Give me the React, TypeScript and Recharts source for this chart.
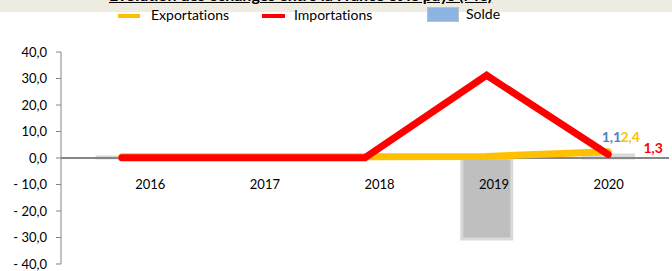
import { Bar, ComposedChart, LabelList, Line, ReferenceLine, XAxis, YAxis } from 'recharts';

const years = ['2016', '2017', '2018', '2019', '2020'];
const exportations = [0.5, 0.5, 0.5, 0.6, 2.4];
const importations = [0.1, 0.1, 0.1, 31.2, 1.3];
const solde = [0.4, 0.4, 0.4, -30.6, 1.1];
const yTicks = [40, 30, 20, 10, 0, -10, -20, -30, -40];

const data = years.map((year, i) => ({
  year,
  exportations: exportations[i],
  importations: importations[i],
  solde: solde[i],
}));

const W = 672;
const H = 271;
const TOP = 52;
const BOTTOM_AXIS = 7;
const PLOT_H = H - TOP - BOTTOM_AXIS;
const ZERO_Y = TOP + PLOT_H / 2;
const FONT = 'Lato, "Open Sans", sans-serif';
const NO_LIG = { fontVariantLigatures: 'none' as const };

function fmt(v: number): string {
  const s = Math.abs(v).toFixed(1).replace('.', ',');
  return v < 0 ? '- ' + s : s;
}

function YearTick({ x, payload }: any) {
  return (
    <text x={x} y={ZERO_Y + 31} textAnchor="middle" fontSize={13} fill="#000" fontFamily={FONT}>
      {payload.value}
    </text>
  );
}

// only the last year carries a value label
function lastLabel(color: string, dx: number, dy: number, isBar = false) {
  return (props: any) => {
    const { x, y, width, value, index } = props;
    if (index !== years.length - 1) return null;
    const cx = isBar ? x + width / 2 : x;
    return (
      <text x={cx + dx} y={y + dy} textAnchor="middle" fontSize={14} fontWeight="bold" fill={color} fontFamily={FONT}>
        {String(value).replace('.', ',')}
      </text>
    );
  };
}

function LegendBox() {
  const item = {
    position: 'absolute' as const,
    top: 7,
    fontSize: 14,
    fontFamily: FONT,
    color: '#000',
    lineHeight: '16px',
    ...NO_LIG,
  };
  return (
    <>
      <div style={{ position: 'absolute', left: 118, top: 14, width: 22, height: 4, background: '#FFC000' }} />
      <div style={{ ...item, left: 151 }}>Exportations</div>
      <div style={{ position: 'absolute', left: 262, top: 14, width: 23, height: 4, background: '#FF0000' }} />
      <div style={{ ...item, left: 294 }}>Importations</div>
      <div
        style={{
          position: 'absolute',
          left: 427,
          top: 7,
          width: 30,
          height: 13,
          background: '#8DB4E2',
          border: '1px solid #BFBFBF',
        }}
      />
      <div style={{ ...item, left: 466, top: 6 }}>Solde</div>
    </>
  );
}

export default function App() {
  return (
    <div
      style={{
        position: 'absolute',
        left: 0,
        top: 0,
        width: W,
        height: H,
        background: '#fff',
        overflow: 'hidden',
        ...NO_LIG,
      }}
    >
      <div style={{ position: 'absolute', left: 0, top: 0, width: W, height: 12, background: '#EEECE1' }} />
      <div
        style={{
          position: 'absolute',
          left: 109,
          top: -13,
          fontSize: 16,
          lineHeight: '16px',
          fontWeight: 'bold',
          textDecoration: 'underline',
          fontFamily: FONT,
          whiteSpace: 'nowrap',
          color: '#000',
        }}
      >
        Evolution des échanges entre la France et le pays (M€)
      </div>
      <LegendBox />
      <div style={{ position: 'absolute', left: 0, top: 0 }}>
        <ComposedChart width={W} height={H} data={data} margin={{ top: TOP, right: 3, bottom: 0, left: 0 }}>
          <XAxis dataKey="year" hide />
          <XAxis
            xAxisId="lab"
            dataKey="year"
            height={BOTTOM_AXIS}
            padding={{ left: 32, right: 3 }}
            axisLine={false}
            tickLine={false}
            tick={<YearTick />}
            interval={0}
          />
          <YAxis
            width={61}
            domain={[-40, 40]}
            ticks={yTicks}
            interval={0}
            tickFormatter={fmt}
            stroke="#868686"
            tickSize={5}
            tickMargin={9}
            tick={{ fontSize: 13, fill: '#000', fontFamily: FONT }}
          />
          <ReferenceLine y={0} stroke="#868686" strokeWidth={2} />
          <Bar dataKey="solde" barSize={50} fill="#BFBFBF" stroke="#D9D9D9" strokeWidth={3} isAnimationActive={false}>
            <LabelList dataKey="solde" content={lastLabel('#4F81BD', 3, -13, true)} />
          </Bar>
          <Line
            dataKey="exportations"
            stroke="#FFC000"
            strokeWidth={7}
            strokeLinecap="round"
            dot={false}
            activeDot={false}
            isAnimationActive={false}
          >
            <LabelList dataKey="exportations" content={lastLabel('#FFC000', 22, -10)} />
          </Line>
          <Line
            dataKey="importations"
            stroke="#FF0000"
            strokeWidth={7}
            strokeLinecap="round"
            dot={false}
            activeDot={false}
            isAnimationActive={false}
          >
            <LabelList dataKey="importations" content={lastLabel('#FF0000', 45, -2)} />
          </Line>
        </ComposedChart>
      </div>
    </div>
  );
}
